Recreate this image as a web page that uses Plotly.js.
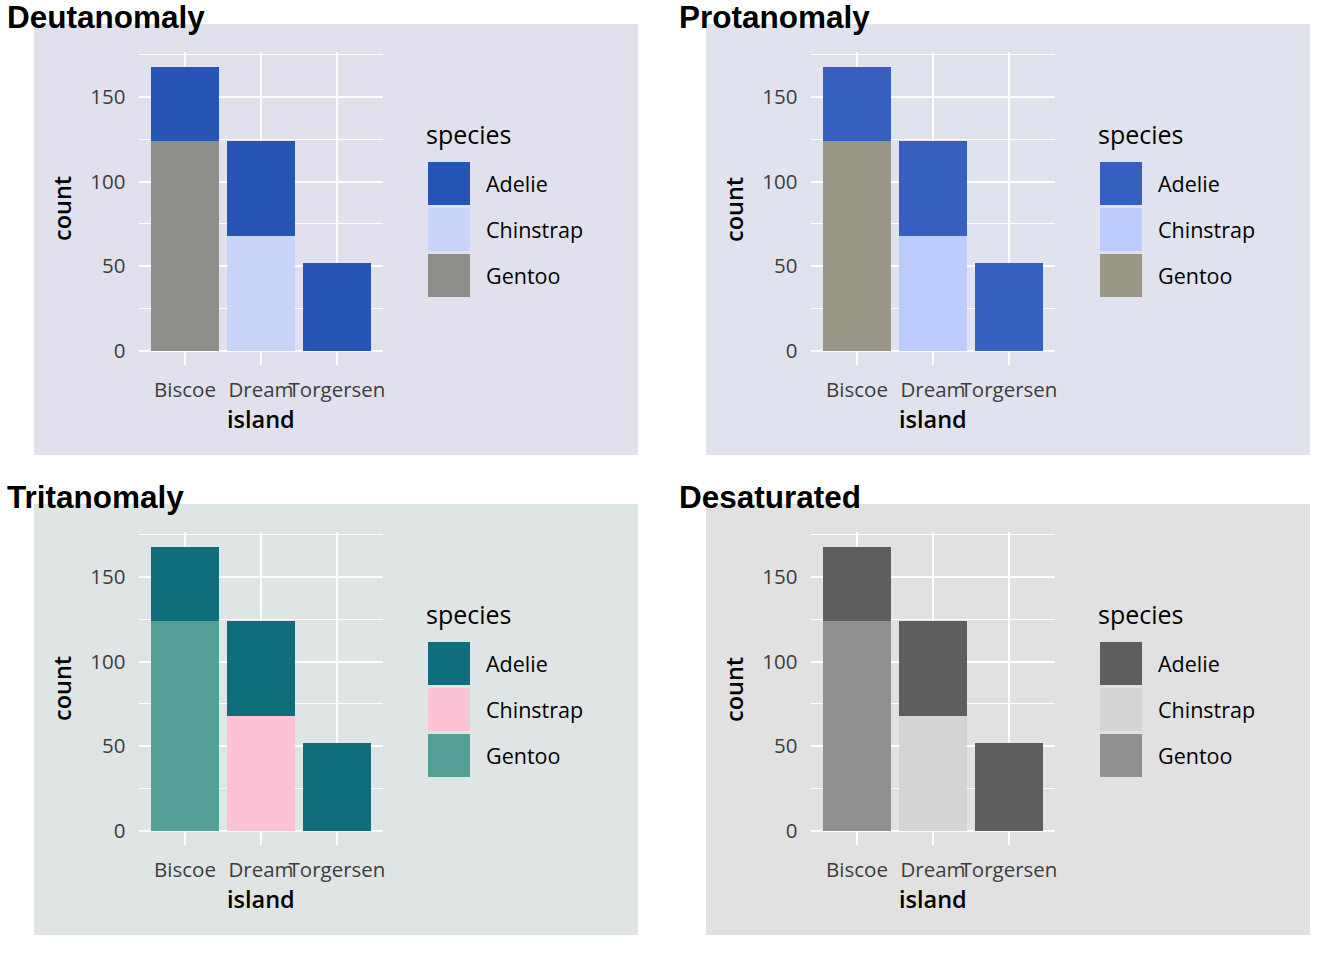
<!DOCTYPE html>
<html>
<head>
<meta charset="utf-8">
<script src="https://cdn.plot.ly/plotly-3.0.1.min.js"></script>
<style>
  html, body { margin: 0; padding: 0; background: #ffffff; }
  #chart { width: 1344px; height: 960px; }
</style>
</head>
<body>
<div id="chart"></div>
<script>
// Penguin counts per island, stacked by species
const islands = ['Biscoe', 'Dream', 'Torgersen'];
const adelie = [44, 56, 52];
const chinstrap = [0, 68, 0];
const gentoo = [124, 0, 0];
const speciesNames = ['Adelie', 'Chinstrap', 'Gentoo'];
const yTicks = [0, 50, 100, 150];

// One panel per colour-vision simulation
const panelTitles = ['Deutanomaly', 'Protanomaly', 'Tritanomaly', 'Desaturated'];
const adelieColors = ['#2755B5', '#3560BF', '#0F6E7C', '#5E5E5E'];
const chinstrapColors = ['#C8D4F8', '#BDCCFC', '#FDC2D6', '#D4D4D4'];
const gentooColors = ['#8F8E8B', '#9A9789', '#55A096', '#909090'];
const panelBgColors = ['#E0E1ED', '#E0E2EE', '#DFE4E4', '#E1E1E1'];

const W = 1344, H = 960;
const px = x => x / W;
const py = y => 1 - y / H;

const FAMILY = 'Open Sans, Lato, sans-serif';
const tickFont = { family: FAMILY, size: 20.5, color: '#3D3D3D', weight: 500 };
const titleFont = { family: FAMILY, size: 23.5, color: '#000000', weight: 600 };
const legendTitleFont = { family: FAMILY, size: 25, color: '#000000', weight: 500 };
const legendFont = { family: FAMILY, size: 21.5, color: '#000000', weight: 500 };
const headFont = { family: 'Liberation Sans, Arial, sans-serif', size: 31.5, color: '#000000', weight: 'bold' };

const traces = [];
const shapes = [];
const annotations = [];
const layout = {
  width: W, height: H,
  margin: { l: 0, r: 0, t: 0, b: 0 },
  paper_bgcolor: '#ffffff',
  plot_bgcolor: 'rgba(0,0,0,0)',
  barmode: 'stack',
  bargap: 0.1,
  showlegend: false,
  shapes: shapes,
  annotations: annotations
};

panelTitles.forEach((title, i) => {
  const col = i % 2, row = Math.floor(i / 2);
  const ox = col * 672, oy = row * 480;
  const suffix = i === 0 ? '' : String(i + 1);
  const xa = 'x' + suffix, ya = 'y' + suffix;

  // panel background
  shapes.push({
    type: 'rect', xref: 'paper', yref: 'paper', layer: 'below',
    x0: px(ox + 34), x1: px(ox + 638), y0: py(oy + 455), y1: py(oy + 24),
    fillcolor: panelBgColors[i], line: { width: 0 }
  });

  // stacked bars: Gentoo at the bottom, Adelie on top
  const series = [
    { name: 'Gentoo', y: gentoo, color: gentooColors[i] },
    { name: 'Chinstrap', y: chinstrap, color: chinstrapColors[i] },
    { name: 'Adelie', y: adelie, color: adelieColors[i] }
  ];
  series.forEach(s => {
    traces.push({
      type: 'bar', x: islands, y: s.y, name: s.name,
      xaxis: xa, yaxis: ya,
      marker: { color: s.color, line: { width: 0 } },
      hoverinfo: 'x+y+name'
    });
  });

  layout['xaxis' + suffix] = {
    domain: [px(ox + 139.4), px(ox + 382.6)],
    anchor: ya,
    type: 'category',
    categoryarray: islands,
    range: [-0.6, 2.6],
    showgrid: true, gridcolor: '#ffffff', gridwidth: 2.1,
    zeroline: false, showline: false, ticks: '',
    tickangle: 0,
    ticklabelstandoff: 10,
    tickfont: tickFont,
    fixedrange: true
  };
  layout['yaxis' + suffix] = {
    domain: [py(oy + 365), py(oy + 52.3)],
    anchor: xa,
    range: [-8.4, 176.4],
    tickvals: yTicks,
    ticktext: yTicks.map(String),
    showgrid: true, gridcolor: '#ffffff', gridwidth: 2.1,
    minor: { tick0: 0, dtick: 25, showgrid: true, gridcolor: '#ffffff', gridwidth: 1.1, ticks: '' },
    zeroline: false, showline: false, ticks: '',
    ticklabelstandoff: 13,
    tickfont: tickFont,
    fixedrange: true
  };

  // panel heading
  annotations.push({
    xref: 'paper', yref: 'paper', x: px(ox + 5), y: py(oy + 17),
    xanchor: 'left', yanchor: 'middle', showarrow: false,
    text: '<b>' + title + '</b>', font: headFont
  });
  // axis titles
  annotations.push({
    xref: 'paper', yref: 'paper', x: px(ox + 62), y: py(oy + 209),
    xanchor: 'center', yanchor: 'middle', showarrow: false, textangle: -90,
    text: 'count', font: titleFont
  });
  annotations.push({
    xref: 'paper', yref: 'paper', x: px(ox + 261), y: py(oy + 419),
    xanchor: 'center', yanchor: 'middle', showarrow: false,
    text: 'island', font: titleFont
  });

  // legend
  annotations.push({
    xref: 'paper', yref: 'paper', x: px(ox + 424), y: py(oy + 134),
    xanchor: 'left', yanchor: 'middle', showarrow: false,
    text: 'species', font: legendTitleFont
  });
  const keyColors = [adelieColors[i], chinstrapColors[i], gentooColors[i]];
  speciesNames.forEach((name, k) => {
    const top = oy + 162 + k * 46;
    shapes.push({
      type: 'rect', xref: 'paper', yref: 'paper', layer: 'above',
      x0: px(ox + 428), x1: px(ox + 470), y0: py(top + 43), y1: py(top),
      fillcolor: keyColors[k], line: { width: 0 }
    });
    annotations.push({
      xref: 'paper', yref: 'paper', x: px(ox + 484), y: py(top + 21.5),
      xanchor: 'left', yanchor: 'middle', showarrow: false,
      text: name, font: legendFont
    });
  });
});

Plotly.newPlot('chart', traces, layout, { displayModeBar: false, staticPlot: true });
</script>
</body>
</html>
